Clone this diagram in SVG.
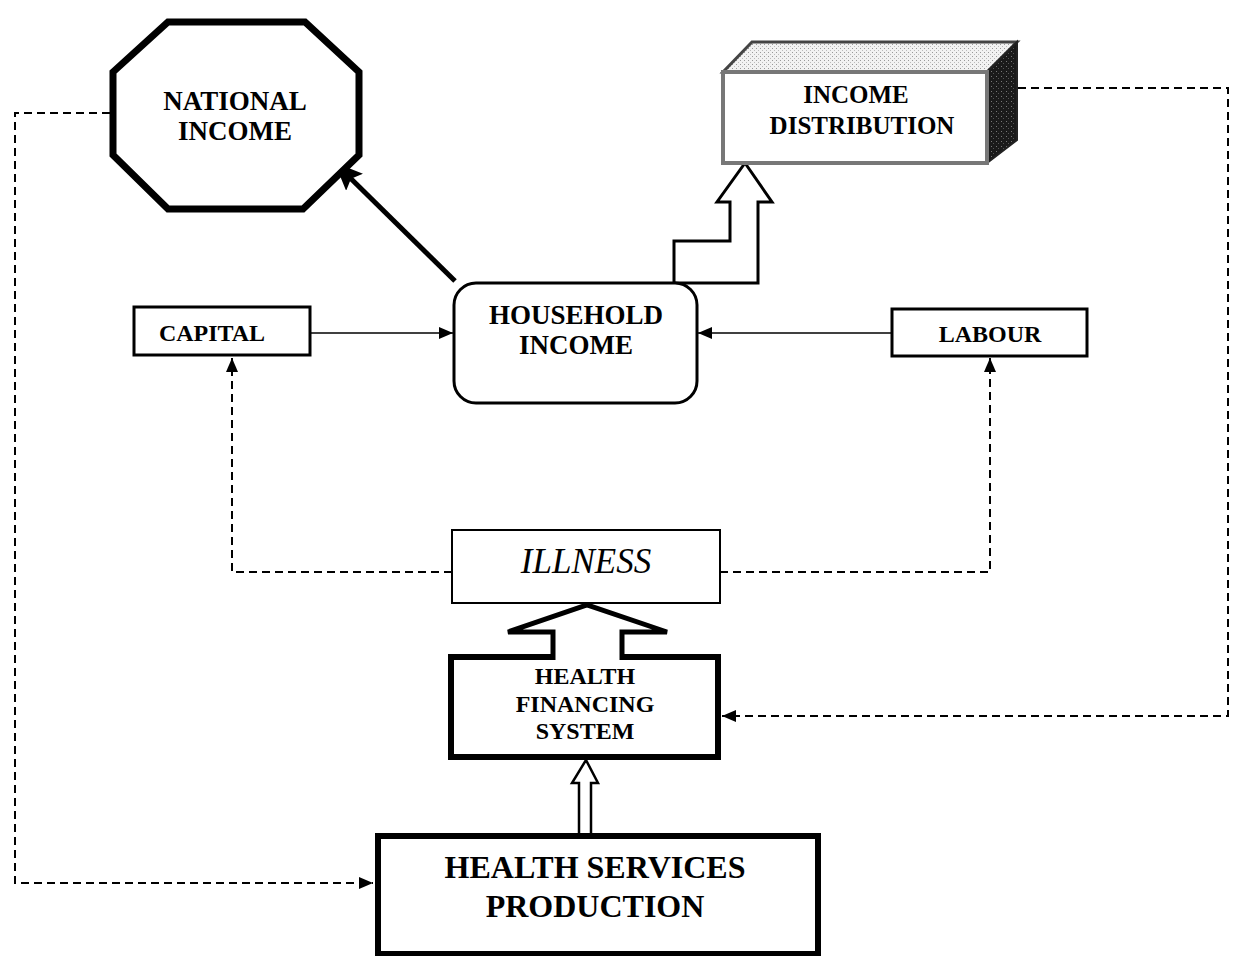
<svg xmlns="http://www.w3.org/2000/svg" width="1233" height="956" viewBox="0 0 1233 956">
<style>
.t{font-family:"Liberation Serif","Times New Roman",serif;font-weight:bold;fill:#000;text-anchor:middle}
.it{font-family:"Liberation Serif","Times New Roman",serif;font-style:italic;fill:#000;text-anchor:middle}
.dash{fill:none;stroke:#000;stroke-width:2;stroke-dasharray:8 5}
.solid{fill:none;stroke:#000}
</style>
<defs>
<marker id="ah" viewBox="0 0 14 12" refX="14" refY="6" markerWidth="14" markerHeight="12" markerUnits="userSpaceOnUse" orient="auto">
<path d="M0,0 L14,6 L0,12 Z" fill="#000"/>
</marker>
<marker id="ahBig" viewBox="0 0 28 24" refX="26" refY="12" markerWidth="28" markerHeight="24" markerUnits="userSpaceOnUse" orient="auto">
<path d="M0,0 L28,12 L0,24 L5,12 Z" fill="#000"/>
</marker>
<pattern id="speck" width="4" height="4" patternUnits="userSpaceOnUse">
<rect width="4" height="4" fill="#f2f2f2"/>
<rect x="0" y="0" width="1" height="1" fill="#999"/>
<rect x="2" y="2" width="1" height="1" fill="#bbb"/>
</pattern>
<pattern id="darkspeck" width="5" height="5" patternUnits="userSpaceOnUse">
<rect width="5" height="5" fill="#1a1a1a"/>
<rect x="1" y="1" width="1" height="1" fill="#777"/>
<rect x="3" y="3" width="1" height="1" fill="#555"/>
</pattern>
</defs>

<g id="connectors">
<polyline class="dash" points="110,113 15,113 15,883 373,883" marker-end="url(#ah)"/>
<polyline class="dash" points="1018,88 1228,88 1228,716 722,716" marker-end="url(#ah)"/>
<polyline class="dash" points="452,572 232,572 232,358" marker-end="url(#ah)"/>
<polyline class="dash" points="720,572 990,572 990,358" marker-end="url(#ah)"/>
<line class="solid" stroke-width="1.5" x1="311" y1="333" x2="453" y2="333" marker-end="url(#ah)"/>
<line class="solid" stroke-width="1.5" x1="891" y1="333" x2="698" y2="333" marker-end="url(#ah)"/>
<line class="solid" stroke-width="5" x1="455" y1="281" x2="336" y2="164" marker-end="url(#ahBig)"/>
<path d="M674,283 L674,241 L730,241 L730,202 L717,202 L745,163 L772,202 L758,202 L758,283 Z" fill="#fff" stroke="#000" stroke-width="3" stroke-linejoin="miter"/>
<path d="M579,836 L579,783 L572,783 L586,760 L598,783 L591,783 L591,836" fill="#fff" stroke="#000" stroke-width="2.5"/>
</g>

<g id="national-income">
<polygon points="113,72 168,22 305,22 359,72 359,155 303,209 168,209 113,155" fill="#fff" stroke="#000" stroke-width="7" stroke-linejoin="miter"/>
<text class="t" x="235" y="110" font-size="27">NATIONAL</text>
<text class="t" x="235" y="140" font-size="27">INCOME</text>
</g>

<g id="income-distribution">
<polygon points="723,72 752,42 1017,42 987,72" fill="url(#speck)" stroke="#444" stroke-width="3"/>
<polygon points="987,72 1017,42 1017,140 987,163" fill="url(#darkspeck)" stroke="#222" stroke-width="2"/>
<rect x="723" y="72" width="264" height="91" fill="#fff" stroke="#777" stroke-width="4"/>
<text class="t" x="856" y="103" font-size="25">INCOME</text>
<text class="t" x="862" y="134" font-size="25">DISTRIBUTION</text>
</g>

<g id="household-income">
<rect x="454" y="283" width="243" height="120" rx="22" ry="22" fill="#fff" stroke="#000" stroke-width="3"/>
<text class="t" x="576" y="324" font-size="27">HOUSEHOLD</text>
<text class="t" x="576" y="354" font-size="27">INCOME</text>
</g>

<g id="capital">
<rect x="134" y="307" width="176" height="48" fill="#fff" stroke="#000" stroke-width="3"/>
<text class="t" x="212" y="341" font-size="24">CAPITAL</text>
</g>

<g id="labour">
<rect x="892" y="309" width="195" height="47" fill="#fff" stroke="#000" stroke-width="3"/>
<text class="t" x="990" y="342" font-size="24">LABOUR</text>
</g>

<g id="illness">
<rect x="452" y="530" width="268" height="73" fill="#fff" stroke="#000" stroke-width="2"/>
<text class="it" x="586" y="573" font-size="35">ILLNESS</text>
</g>

<g id="health-financing">
<rect x="451" y="657" width="267" height="100" fill="#fff" stroke="#000" stroke-width="6"/>
<rect x="556" y="650" width="63" height="12" fill="#fff"/>
<path d="M553,660 L553,632 L508,632 L587,605 L667,632 L622,632 L622,660" fill="#fff" stroke="#000" stroke-width="5" stroke-linejoin="miter"/>
<text class="t" x="585" y="684" font-size="24">HEALTH</text>
<text class="t" x="585" y="712" font-size="24">FINANCING</text>
<text class="t" x="585" y="739" font-size="24">SYSTEM</text>
</g>

<g id="health-services">
<rect x="378" y="836" width="440" height="118" fill="#fff" stroke="#000" stroke-width="6"/>
<text class="t" x="595" y="878" font-size="32">HEALTH SERVICES</text>
<text class="t" x="595" y="917" font-size="32">PRODUCTION</text>
</g>
</svg>
